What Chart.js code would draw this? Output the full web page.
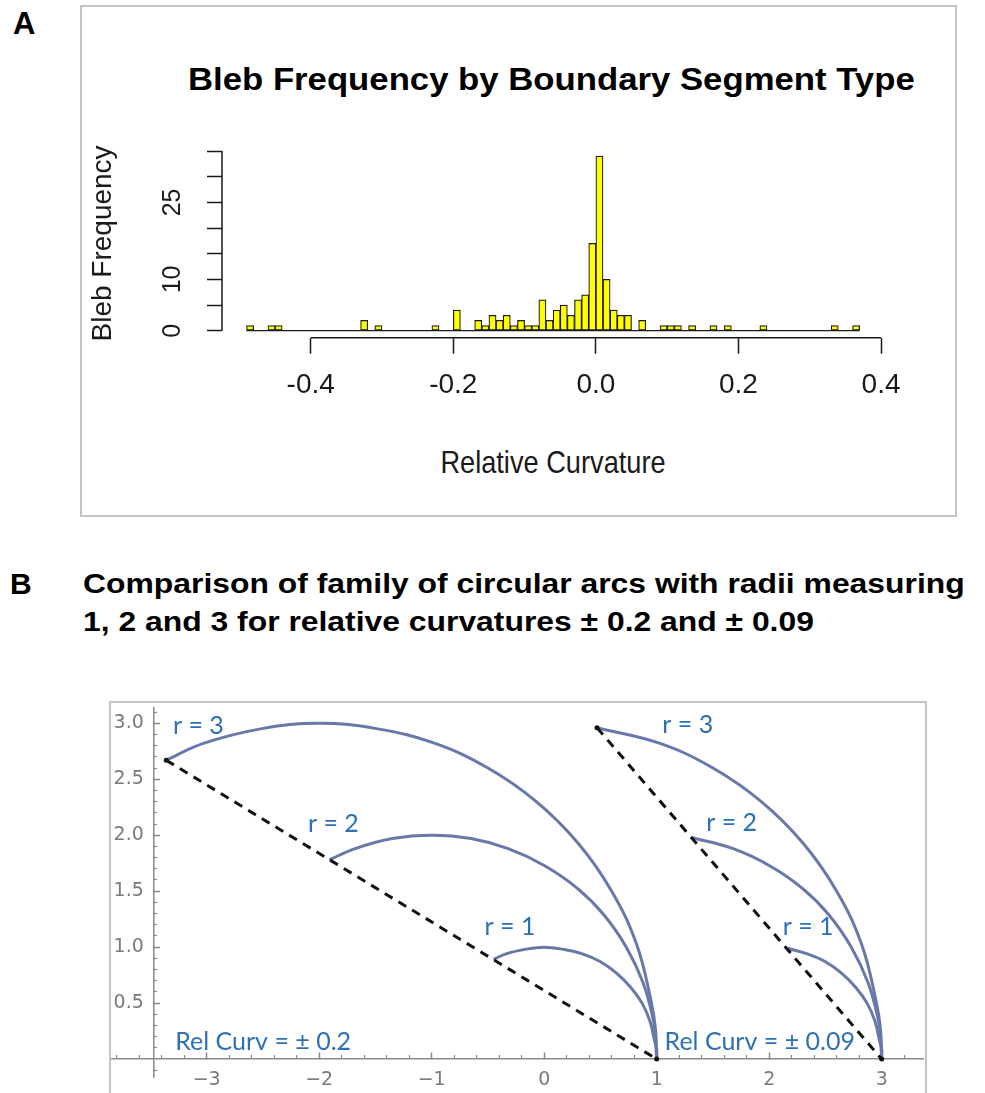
<!DOCTYPE html>
<html>
<head>
<meta charset="utf-8">
<script src="https://cdn.jsdelivr.net/npm/chart.js"></script>
<style>
  html, body { margin: 0; padding: 0; background: #fff; width: 985px; height: 1093px; overflow: hidden; position: relative; }
  .abs { position: absolute; }
  .frame { position: absolute; box-sizing: border-box; border: 2px solid #c4c4c4; }
  .head { position: absolute; font-family: 'Liberation Sans', Arial, sans-serif; font-weight: bold; color: #000; line-height: 1; white-space: nowrap; transform-origin: 0 0; }
  .xlab { position: absolute; font-family: 'Liberation Sans', Arial, sans-serif; color: #1a1a1a; line-height: 1; white-space: nowrap; transform-origin: 50% 50%; }
</style>
</head>
<body>
<div class="frame" style="left:80px;top:5px;width:877px;height:512px"></div>
<div class="frame" style="left:109px;top:701px;width:818px;height:420px"></div>

<div class="head" style="left:13px;top:8px;font-size:31px">A</div>
<div class="head" style="left:188px;top:64px;font-size:31px;transform:scaleX(1.12)">Bleb Frequency by Boundary Segment Type</div>
<div class="head" style="left:10px;top:569px;font-size:30px">B</div>
<div class="head" style="left:83px;top:565px;font-size:27px;line-height:38px;transform:scaleX(1.18)">Comparison of family of circular arcs with radii measuring<br>1, 2 and 3 for relative curvatures ± 0.2 and ± 0.09</div>
<div class="xlab" style="left:553px;top:446px;font-size:32px;transform:translate(-50%,0) scaleX(0.85)">Relative Curvature</div>

<canvas id="histChart" class="abs" style="left:0;top:0" width="985" height="530"></canvas>
<canvas id="arcChart" class="abs" style="left:0;top:690px" width="985" height="403"></canvas>

<script>
// ---- panel A: histogram (bin lower edges, width 0.01) ----
const binWidth = 0.01;
const binStarts = [-0.49, -0.46, -0.45, -0.33, -0.31, -0.23, -0.20,
    -0.17, -0.16, -0.15, -0.14, -0.13, -0.12, -0.11, -0.10, -0.09, -0.08,
    -0.07, -0.06, -0.05, -0.04, -0.03, -0.02, -0.01, 0.00, 0.01, 0.02, 0.03, 0.04,
    0.06, 0.09, 0.10, 0.11, 0.13, 0.16, 0.18, 0.23, 0.33, 0.36];
const binCounts = [1, 1, 1, 2, 1, 1, 4,
    2, 1, 3, 2, 3, 1, 2, 1, 1, 6,
    2, 4, 5, 3, 6, 7, 17, 34, 10, 4, 3, 3,
    2, 1, 1, 1, 1, 1, 1, 1, 1, 1];
const histXTicks = [-0.4, -0.2, 0.0, 0.2, 0.4];
const histYTicks = [0, 5, 10, 15, 20, 25, 30, 35];
const histYLabelled = [0, 10, 25];

// ---- panel B: circular arcs ----
const arcLeftR1 = [[-0.45, 0.89], [-0.34, 0.94], [-0.17, 0.98], [0, 1], [0.17, 0.98], [0.34, 0.94], [0.5, 0.87],
    [0.64, 0.77], [0.77, 0.64], [0.87, 0.5], [0.94, 0.34], [0.98, 0.17], [1.0, 0.09], [1, 0]];
const arcLeftR2 = [[-1.91, 1.78], [-1.68, 1.88], [-1.35, 1.97], [-1, 2], [-0.65, 1.97], [-0.32, 1.88], [0, 1.73],
    [0.29, 1.53], [0.53, 1.29], [0.73, 1.0], [0.88, 0.68], [0.97, 0.35], [0.99, 0.17], [1, 0]];
const arcLeftR3 = [[-3.36, 2.67], [-3.03, 2.82], [-2.52, 2.95], [-2, 3], [-1.48, 2.95], [-0.97, 2.82], [-0.5, 2.6],
    [-0.07, 2.3], [0.3, 1.93], [0.6, 1.5], [0.82, 1.03], [0.95, 0.52], [0.99, 0.26], [1, 0]];
const arcRightR1 = [[2.16, 0.99], [2.34, 0.94], [2.5, 0.87], [2.64, 0.77], [2.77, 0.64], [2.87, 0.5],
    [2.94, 0.34], [2.98, 0.17], [3.0, 0.09], [3, 0]];
const arcRightR2 = [[1.31, 1.98], [1.68, 1.88], [2, 1.73], [2.29, 1.53], [2.53, 1.29], [2.73, 1.0],
    [2.88, 0.68], [2.97, 0.35], [2.99, 0.17], [3, 0]];
const arcRightR3 = [[0.47, 2.96], [1.03, 2.82], [1.5, 2.6], [1.93, 2.3], [2.3, 1.93], [2.6, 1.5],
    [2.82, 1.03], [2.95, 0.52], [2.99, 0.26], [3, 0]];
const chordLeft = [[-3.36, 2.67], [1, 0]];
const chordRight = [[0.47, 2.96], [3, 0]];

const arcXMajor = [-3, -2, -1, 0, 1, 2, 3];
const arcXMinor = [-3.8, -3.6, -3.4, -3.2, -2.8, -2.6, -2.4, -2.2, -1.8, -1.6, -1.4, -1.2,
    -0.8, -0.6, -0.4, -0.2, 0.2, 0.4, 0.6, 0.8, 1.2, 1.4, 1.6, 1.8, 2.2, 2.4, 2.6, 2.8, 3.2];
const arcYMajor = [0.5, 1.0, 1.5, 2.0, 2.5, 3.0];
const arcYMinor = [-0.1, 0.1, 0.2, 0.3, 0.4, 0.6, 0.7, 0.8, 0.9, 1.1, 1.2, 1.3, 1.4,
    1.6, 1.7, 1.8, 1.9, 2.1, 2.2, 2.3, 2.4, 2.6, 2.7, 2.8, 2.9, 3.1];

const curveLabels = [
    { text: 'r = 3', x: -3.30, y: 2.98 },
    { text: 'r = 2', x: -2.10, y: 2.10 },
    { text: 'r = 1', x: -0.53, y: 1.18 },
    { text: 'Rel Curv = \u00b1 0.2', x: -3.28, y: 0.15 },
    { text: 'r = 3', x: 1.05, y: 2.985 },
    { text: 'r = 2', x: 1.44, y: 2.11 },
    { text: 'r = 1', x: 2.12, y: 1.18 },
    { text: 'Rel Curv = \u00b1 0.09', x: 1.07, y: 0.15 }
];

const sans = "'Liberation Sans', Arial, sans-serif";
const ink = '#1a1a1a';

// R style axes: lines only run between first and last tick
const rAxisLines = {
    id: 'rAxisLines',
    afterDraw(chart) {
        const { ctx, scales: { x, y } } = chart;
        ctx.save();
        ctx.strokeStyle = ink;
        ctx.lineWidth = 1.5;
        ctx.beginPath();
        ctx.moveTo(x.getPixelForValue(histXTicks[0]), y.bottom);
        ctx.lineTo(x.getPixelForValue(histXTicks[histXTicks.length - 1]), y.bottom);
        ctx.moveTo(x.left, y.getPixelForValue(histYTicks[0]));
        ctx.lineTo(x.left, y.getPixelForValue(histYTicks[histYTicks.length - 1]));
        ctx.stroke();
        ctx.restore();
    }
};

const labelPlugin = {
    id: 'curveLabels',
    afterDatasetsDraw(chart) {
        const { ctx, scales: { x, y } } = chart;
        ctx.save();
        ctx.font = "25px Lato, 'Open Sans', sans-serif";
        ctx.fillStyle = '#2e70b5';
        ctx.textAlign = 'left';
        ctx.textBaseline = 'middle';
        curveLabels.forEach(l => ctx.fillText(l.text, x.getPixelForValue(l.x), y.getPixelForValue(l.y)));
        ctx.restore();
    }
};

function toPoints(arr) {
    return arr.map(p => ({ x: p[0], y: p[1] }));
}

window.onload = function() {
    const binSpan = binStarts[binStarts.length - 1] + binWidth - binStarts[0];
    const maxCount = Math.max(...binCounts);
    const bars = binStarts.map((b, i) => ({ x: b + binWidth / 2, y: binCounts[i] }));
    const baseline = [
        { x: binStarts[0], y: 0 },
        { x: binStarts[binStarts.length - 1] + binWidth, y: 0 }
    ];

    new Chart(document.getElementById('histChart'), {
        type: 'bar',
        data: {
            datasets: [{
                type: 'bar',
                data: bars,
                backgroundColor: '#ffff00',
                borderColor: ink,
                borderWidth: 1.2,
                borderSkipped: false,
                barPercentage: 1,
                categoryPercentage: 1,
                order: 1
            }, {
                type: 'line',
                data: baseline,
                borderColor: ink,
                borderWidth: 1.2,
                pointRadius: 0,
                order: 2
            }]
        },
        options: {
            responsive: false,
            animation: false,
            devicePixelRatio: 1,
            layout: { padding: { left: 0, right: 100.8, top: 149.2, bottom: 12.3 } },
            plugins: { legend: { display: false }, tooltip: { enabled: false } },
            scales: {
                x: {
                    type: 'linear',
                    min: binStarts[0] - 0.04 * binSpan,
                    max: binStarts[binStarts.length - 1] + binWidth + 0.04 * binSpan,
                    offset: false,
                    border: { display: false },
                    grid: { offset: false, drawOnChartArea: false, tickLength: 16, color: ink, tickWidth: 1.5 },
                    afterBuildTicks: s => { s.ticks = histXTicks.map(v => ({ value: v })); },
                    afterFit: s => { s.height = 180; },
                    ticks: {
                        autoSkip: false, maxRotation: 0, padding: 15, color: ink,
                        font: { family: sans, size: 28 },
                        callback: v => v.toFixed(1)
                    }
                },
                y: {
                    min: -0.04 * maxCount,
                    max: maxCount * 1.04,
                    border: { display: false },
                    grid: { drawOnChartArea: false, tickLength: 15, color: ink, tickWidth: 1.5 },
                    afterBuildTicks: s => { s.ticks = histYTicks.map(v => ({ value: v })); },
                    afterFit: s => { s.width = 222; },
                    ticks: {
                        autoSkip: false, minRotation: 90, maxRotation: 90, crossAlign: 'center', padding: 20, color: ink,
                        font: { family: sans, size: 25 },
                        callback: v => histYLabelled.includes(v) ? String(v) : ''
                    },
                    title: {
                        display: true, text: 'Bleb Frequency', color: ink,
                        font: { family: sans, size: 28 }, padding: { top: 86 }
                    }
                }
            }
        },
        plugins: [rAxisLines]
    });

    const arcStyle = { borderColor: '#6878a9', borderWidth: 3, pointRadius: 0, tension: 0.4, fill: false, showLine: true };
    const chordStyle = { borderColor: '#111', borderWidth: 3, borderDash: [9, 7], pointRadius: 2.5,
        pointBackgroundColor: '#111', pointBorderWidth: 0, tension: 0, fill: false, showLine: true };
    const tickFont = { family: "'DejaVu Sans', sans-serif", size: 19 };
    const axisGray = '#8a8a8a';
    const fmtX = v => v < 0 ? '\u2212' + Math.abs(v) : String(v);

    new Chart(document.getElementById('arcChart'), {
        type: 'scatter',
        data: {
            datasets: [
                Object.assign({ data: toPoints(chordLeft) }, chordStyle),
                Object.assign({ data: toPoints(chordRight) }, chordStyle),
                Object.assign({ data: toPoints(arcLeftR1) }, arcStyle),
                Object.assign({ data: toPoints(arcLeftR2) }, arcStyle),
                Object.assign({ data: toPoints(arcLeftR3) }, arcStyle),
                Object.assign({ data: toPoints(arcRightR1) }, arcStyle),
                Object.assign({ data: toPoints(arcRightR2) }, arcStyle),
                Object.assign({ data: toPoints(arcRightR3) }, arcStyle)
            ]
        },
        options: {
            responsive: false,
            animation: false,
            devicePixelRatio: 1,
            layout: { padding: { left: 112.2, right: 61.7, top: 17.6, bottom: 16 } },
            plugins: { legend: { display: false }, tooltip: { enabled: false } },
            scales: {
                x: {
                    type: 'linear', min: -3.84, max: 3.37, position: { y: 0 },
                    border: { color: axisGray, width: 1.5 },
                    grid: { drawOnChartArea: false, tickLength: -7, color: axisGray, tickWidth: 1.5 },
                    afterBuildTicks: s => { s.ticks = arcXMajor.map(v => ({ value: v })); },
                    ticks: { autoSkip: false, maxRotation: 0, padding: 17, font: tickFont, color: '#7a7a7a', callback: fmtX }
                },
                xMinor: {
                    type: 'linear', axis: 'x', min: -3.84, max: 3.37, position: { y: 0 },
                    border: { display: false },
                    grid: { drawOnChartArea: false, tickLength: -4, color: axisGray, tickWidth: 1.2 },
                    afterBuildTicks: s => { s.ticks = arcXMinor.map(v => ({ value: v })); },
                    ticks: { display: false }
                },
                y: {
                    type: 'linear', min: -0.16, max: 3.14, position: { x: -3.475 },
                    border: { color: axisGray, width: 1.5 },
                    grid: { drawOnChartArea: false, tickLength: -7, color: axisGray, tickWidth: 1.5 },
                    afterBuildTicks: s => { s.ticks = arcYMajor.map(v => ({ value: v })); },
                    ticks: { autoSkip: false, font: tickFont, color: '#7a7a7a', callback: v => v.toFixed(1) + '\u2002' }
                },
                yMinor: {
                    type: 'linear', axis: 'y', min: -0.16, max: 3.14, position: { x: -3.475 },
                    border: { display: false },
                    grid: { drawOnChartArea: false, tickLength: -4, color: axisGray, tickWidth: 1.2 },
                    afterBuildTicks: s => { s.ticks = arcYMinor.map(v => ({ value: v })); },
                    ticks: { display: false }
                }
            }
        },
        plugins: [labelPlugin]
    });
};
</script>
</body>
</html>
